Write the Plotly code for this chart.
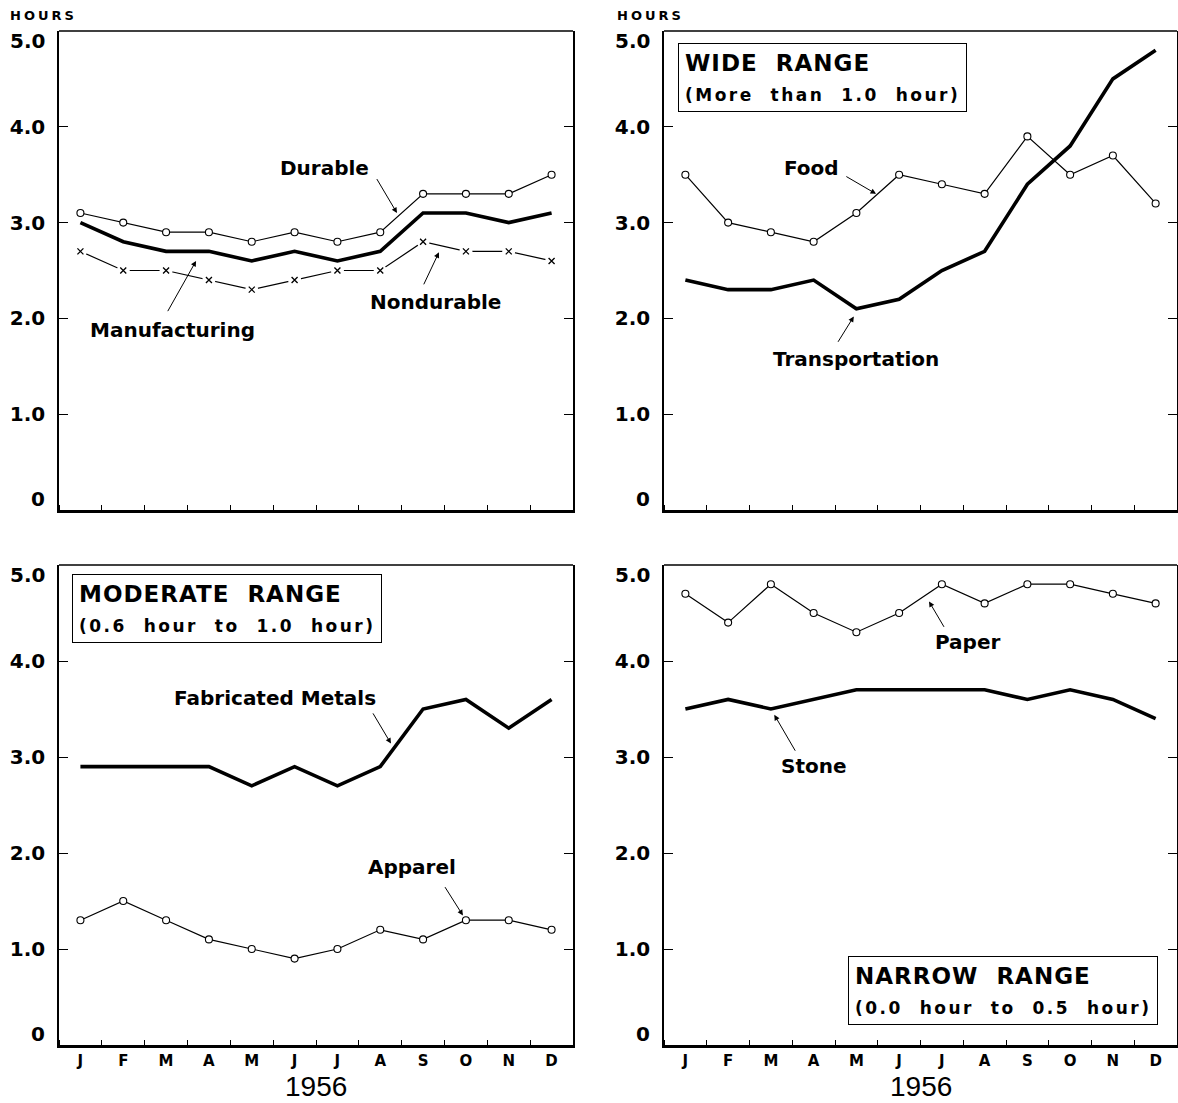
import plotly.graph_objects as go

# ---------------- data ----------------
months = ["J", "F", "M", "A", "M", "J", "J", "A", "S", "O", "N", "D"]
month_idx = list(range(12))
year_label = "1956"
y_mid_ticks = [1, 2, 3, 4]
y_mid_text = ["1.0", "2.0", "3.0", "4.0"]
y_end_ticks = [0, 5]
y_end_text = ["0", "5.0"]

durable = [3.1, 3.0, 2.9, 2.9, 2.8, 2.9, 2.8, 2.9, 3.3, 3.3, 3.3, 3.5]
manufacturing = [3.0, 2.8, 2.7, 2.7, 2.6, 2.7, 2.6, 2.7, 3.1, 3.1, 3.0, 3.1]
nondurable = [2.7, 2.5, 2.5, 2.4, 2.3, 2.4, 2.5, 2.5, 2.8, 2.7, 2.7, 2.6]

food = [3.5, 3.0, 2.9, 2.8, 3.1, 3.5, 3.4, 3.3, 3.9, 3.5, 3.7, 3.2]
transportation = [2.4, 2.3, 2.3, 2.4, 2.1, 2.2, 2.5, 2.7, 3.4, 3.8, 4.5, 4.8]

fabricated_metals = [2.9, 2.9, 2.9, 2.9, 2.7, 2.9, 2.7, 2.9, 3.5, 3.6, 3.3, 3.6]
apparel = [1.3, 1.5, 1.3, 1.1, 1.0, 0.9, 1.0, 1.2, 1.1, 1.3, 1.3, 1.2]

paper = [4.7, 4.4, 4.8, 4.5, 4.3, 4.5, 4.8, 4.6, 4.8, 4.8, 4.7, 4.6]
stone = [3.5, 3.6, 3.5, 3.6, 3.7, 3.7, 3.7, 3.7, 3.6, 3.7, 3.6, 3.4]

# ---------------- styling ----------------
W, H = 1178, 1103
FONT = "DejaVu Sans"
BLACK = "#000000"
THICK = 3.6
THIN = 1.2
NB = "\u00a0"

fig = go.Figure()


def thick(xa, ya, vals, name):
    fig.add_trace(go.Scatter(x=month_idx, y=vals, mode="lines", name=name,
                             line=dict(color=BLACK, width=THICK), xaxis=xa, yaxis=ya,
                             showlegend=False))


def circles(xa, ya, vals, name):
    fig.add_trace(go.Scatter(x=month_idx, y=vals, mode="lines+markers", name=name,
                             line=dict(color=BLACK, width=THIN),
                             marker=dict(symbol="circle", size=7, color="white",
                                         line=dict(color=BLACK, width=1.1)),
                             xaxis=xa, yaxis=ya, showlegend=False))


def crosses(xa, ya, vals, name):
    fig.add_trace(go.Scatter(x=month_idx, y=vals, mode="lines", name=name,
                             line=dict(color=BLACK, width=THIN), xaxis=xa, yaxis=ya,
                             showlegend=False))
    fig.add_trace(go.Scatter(x=month_idx, y=vals, mode="markers", name=name + " gap",
                             marker=dict(symbol="circle", size=13, color="white",
                                         line=dict(width=0)),
                             xaxis=xa, yaxis=ya, showlegend=False, hoverinfo="skip"))
    fig.add_trace(go.Scatter(x=month_idx, y=vals, mode="markers", name=name + " mark",
                             marker=dict(symbol="x-thin", size=6,
                                         line=dict(color=BLACK, width=1.3)),
                             xaxis=xa, yaxis=ya, showlegend=False))


# panel 1: top-left
circles("x", "y", durable, "Durable")
thick("x", "y", manufacturing, "Manufacturing")
crosses("x", "y", nondurable, "Nondurable")
# panel 2: top-right
circles("x2", "y2", food, "Food")
thick("x2", "y2", transportation, "Transportation")
# panel 3: bottom-left
thick("x3", "y3", fabricated_metals, "Fabricated Metals")
circles("x3", "y3", apparel, "Apparel")
# panel 4: bottom-right
circles("x4", "y4", paper, "Paper")
thick("x4", "y4", stone, "Stone")

L = [59 / W, 573 / W]
R = [664 / W, 1177 / W]
T = [1 - 510 / H, 1 - 31 / H]
B = [1 - 1045 / H, 1 - 565 / H]


def xaxis(domain, anchor, labels):
    return dict(domain=domain, anchor=anchor, range=[-0.5, 11.5],
                tickmode="array", tickvals=month_idx, ticktext=months,
                showticklabels=labels, ticks="",
                tickfont=dict(family=FONT, size=15, color=BLACK, weight="bold"),
                minor=dict(tickmode="linear", tick0=0.5, dtick=1, ticks="inside",
                           ticklen=5, tickwidth=1, tickcolor=BLACK, showgrid=False),
                showline=True, linecolor=BLACK, linewidth=3, mirror=False,
                showgrid=False, zeroline=False, fixedrange=True)


def yaxis(domain, anchor):
    return dict(domain=domain, anchor=anchor, range=[0, 5],
                tickmode="array", tickvals=y_mid_ticks, ticktext=y_mid_text,
                ticks="inside", ticklen=9, tickwidth=1.2, tickcolor=BLACK,
                ticklabelstandoff=8,
                tickfont=dict(family=FONT, size=20, color=BLACK, weight="bold"),
                showline=True, linecolor=BLACK, linewidth=1.5, mirror="ticks",
                showgrid=False, zeroline=False, fixedrange=True)


fig.update_layout(
    width=W, height=H,
    margin=dict(l=0, r=0, t=0, b=0),
    paper_bgcolor="white", plot_bgcolor="white",
    showlegend=False,
    xaxis=xaxis(L, "y", False), yaxis=yaxis(T, "x"),
    xaxis2=xaxis(R, "y2", False), yaxis2=yaxis(T, "x2"),
    xaxis3=xaxis(L, "y3", True), yaxis3=yaxis(B, "x3"),
    xaxis4=xaxis(R, "y4", True), yaxis4=yaxis(B, "x4"),
)

# top frame lines
for xa, ya in [("x", "y"), ("x2", "y2"), ("x3", "y3"), ("x4", "y4")]:
    fig.add_shape(type="line", xref=f"{xa} domain", yref=f"{ya} domain",
                  x0=0, x1=1, y0=1, y1=1, line=dict(color=BLACK, width=1.5))

ann = []
lab_font = dict(family=FONT, size=20, color=BLACK, weight="bold")

# end tick labels (0 and 5.0) sit inside the frame height like the original
for xa, ya in [("x", "y"), ("x2", "y2"), ("x3", "y3"), ("x4", "y4")]:
    for v, t in zip(y_end_ticks, y_end_text):
        ann.append(dict(xref=f"{xa} domain", yref=ya, x=0, y=v, text=t,
                        showarrow=False, font=lab_font, xanchor="right",
                        yanchor="bottom" if v == 0 else "top",
                        xshift=-12, yshift=-3 if v == 0 else 4))


def label(xa, ya, x, y, text):
    ann.append(dict(xref=xa, yref=ya, x=x, y=y, text=text, showarrow=False,
                    font=lab_font, xanchor="center", yanchor="middle"))


def arrow(xa, ya, tail, head):
    ann.append(dict(xref=xa, yref=ya, axref=xa, ayref=ya, x=head[0], y=head[1],
                    ax=tail[0], ay=tail[1], text="", showarrow=True,
                    arrowhead=2, arrowsize=1.1, arrowwidth=1, arrowcolor=BLACK,
                    standoff=0, startstandoff=0))


# panel 1 labels
label("x", "y", 5.69, 3.57, "Durable")
arrow("x", "y", (6.90, 3.47), (7.39, 3.10))
label("x", "y", 8.30, 2.17, "Nondurable")
arrow("x", "y", (8.00, 2.34), (8.37, 2.69))
label("x", "y", 2.16, 1.875, "Manufacturing")
arrow("x", "y", (2.02, 2.06), (2.70, 2.60))
# panel 2 labels
label("x2", "y2", 2.94, 3.57, "Food")
arrow("x2", "y2", (3.73, 3.49), (4.46, 3.30))
label("x2", "y2", 3.99, 1.58, "Transportation")
arrow("x2", "y2", (3.55, 1.74), (3.94, 2.02))
# panel 3 labels
label("x3", "y3", 4.54, 3.61, "Fabricated" + NB + "Metals")
arrow("x3", "y3", (6.81, 3.47), (7.25, 3.14))
label("x3", "y3", 7.74, 1.85, "Apparel")
arrow("x3", "y3", (8.49, 1.66), (8.93, 1.35))
# panel 4 labels
label("x4", "y4", 6.59, 4.20, "Paper")
arrow("x4", "y4", (6.07, 4.34), (5.70, 4.62))
label("x4", "y4", 3.01, 2.91, "Stone")
arrow("x4", "y4", (2.59, 3.05), (2.08, 3.44))

# range boxes
sp2 = NB * 2


def range_box(x_px, y_px, title, sub):
    text = (f"<span style='letter-spacing:1px'>{title}</span><br>"
            f"<span style='font-size:17px;letter-spacing:2.5px'>{sub}</span>")
    ann.append(dict(xref="paper", yref="paper", x=x_px / W, y=1 - y_px / H,
                    xanchor="left", yanchor="top", align="left", showarrow=False,
                    text=text, font=dict(family=FONT, size=23, color=BLACK, weight="bold"),
                    bordercolor=BLACK, borderwidth=1, borderpad=6, bgcolor="white"))


range_box(678, 43, "WIDE" + sp2 + "RANGE",
          "(More" + sp2 + "than" + sp2 + "1.0" + sp2 + "hour)")
range_box(72, 574, "MODERATE" + sp2 + "RANGE",
          "(0.6" + sp2 + "hour" + sp2 + "to" + sp2 + "1.0" + sp2 + "hour)")
range_box(848, 956, "NARROW" + sp2 + "RANGE",
          "(0.0" + sp2 + "hour" + sp2 + "to" + sp2 + "0.5" + sp2 + "hour)")

# HOURS labels
for x_px in (8, 615):
    ann.append(dict(xref="paper", yref="paper", x=x_px / W, y=1 - 16 / H,
                    xanchor="left", yanchor="middle", showarrow=False,
                    text="<span style='letter-spacing:3px'>HOURS</span>",
                    font=dict(family=FONT, size=13, color=BLACK, weight="bold")))

# year labels
for xa in ("x3", "x4"):
    ann.append(dict(xref=f"{xa} domain", yref="paper", x=0.5, y=0,
                    xanchor="center", yanchor="bottom", showarrow=False, text=year_label,
                    borderpad=0,
                    font=dict(family="Liberation Sans", size=28, color=BLACK)))

fig.update_layout(annotations=ann)

fig.write_html("out.html", config={"displayModeBar": False},
               post_script="document.body.style.margin='0';")
